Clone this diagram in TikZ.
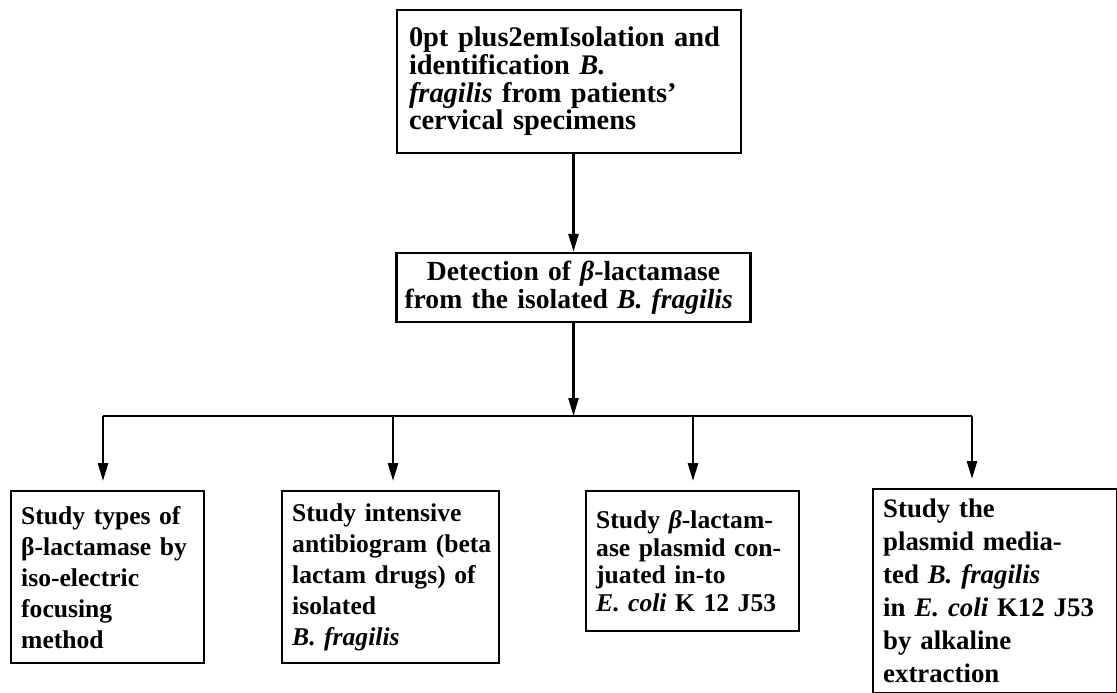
\documentclass[tikz,border=0pt]{standalone}
\usepackage{fontspec}
\setmainfont[WordSpace=1.25]{Liberation Serif}
\usetikzlibrary{arrows.meta}

% a line filled out to the full box width
\newcommand{\fillline}[1]{\makebox[\hsize][s]{#1}}

\tikzset{
  box/.style={draw, line width=1.2pt, inner xsep=6pt, inner ysep=3pt,
    font=\bfseries\fontsize{14.2}{13.8}\selectfont},
  studybox/.style={box, anchor=north west, align=left, inner xsep=5pt, inner ysep=5pt,
    font=\bfseries\fontsize{12.8}{15.5}\selectfont}
}

\begin{document}
\begin{tikzpicture}[x=0.5pt, y=-0.5pt, >={Triangle[length=9pt,width=5pt]}, line width=1.3pt]
				\useasboundingbox (0,0) rectangle (1117,692);
				
				% top and middle
				\node[box, text width=160pt, minimum height=71.5pt, align=center,
					font=\bfseries\fontsize{14.2}{13.8}\selectfont\spaceskip=0.45em plus 0.1em\relax] (iso) at (569,81.5)
				{Isolation and\\ identification \textit{B.}\\ \textit{fragilis} from patients'\\ cervical specimens};
				\node[box, text width=169pt, minimum height=34.5pt, inner xsep=4pt, align=left,
					font=\bfseries\fontsize{13.8}{13.8}\selectfont] (det) at (573.5,287.5)
				{\fillline{\hfill Detection of \textit{β}-lactamase\hfill}\\ \fillline{from the isolated \textit{B. fragilis}}};
				
				% bottom row
				\node[studybox, text width=86.5pt, minimum height=86pt] (st1) at (10,490)
				{\fillline{Study types of}\\ \fillline{β-lactamase by}\\ iso-electric\\ focusing\\ method};
				\node[studybox, text width=98.5pt, minimum height=86pt] (st2) at (281,490)
				{Study intensive\\ \fillline{antibiogram (beta}\\ \fillline{lactam drugs) of}\\ isolated\\ \textit{B. fragilis}};
				\node[studybox, text width=96.5pt, minimum height=70pt,
					font=\bfseries\fontsize{12.8}{13.8}\selectfont] (st3) at (585,490)
				{\fillline{Study \textit{β}-lactam-}\\ \fillline{ase plasmid con-}\\ juated in-to\\ \fillline{\textit{E. coli} K 12 J53}};
				\node[studybox, text width=112pt, minimum height=101pt,
					font=\bfseries\fontsize{13.4}{16.5}\selectfont] (st4) at (872,488)
				{Study the\\ \fillline{plasmid media-}\\ ted \textit{B. fragilis}\\ \fillline{in \textit{E. coli} K12 J53}\\ by alkaline\\ extraction};
				
				% bar and drops
				\coordinate (bar) at (575,416);
				\foreach \i/\x in {1/103, 2/393, 3/693, 4/972}{
					\coordinate (d\i) at (\x,416);
				}
				
				\draw[->] (det.north |- iso.south) -- (det.north);
				\draw[->] (det.south) -- (det.south |- bar);
				\draw (d1) -- (d4);
				\foreach \i in {1,...,4}{
					\draw[->, shorten >=4.5pt] (d\i) -- (d\i |- st\i.north);
				}
			\end{tikzpicture}
\end{document}
